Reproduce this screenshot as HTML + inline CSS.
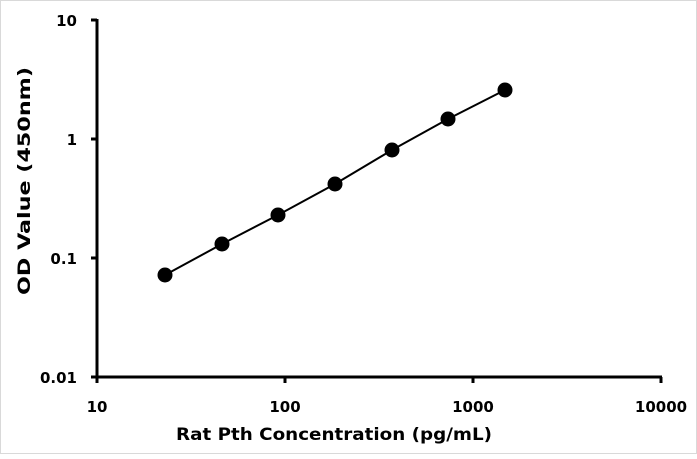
<!DOCTYPE html>
<html><head><style>
html,body{margin:0;padding:0;background:#fff}
body{width:697px;height:454px;overflow:hidden}
svg text{font-family:"DejaVu Sans","Liberation Sans",sans-serif;font-weight:bold;fill:#000}
</style></head><body>
<svg width="697" height="454" viewBox="0 0 697 454" xmlns="http://www.w3.org/2000/svg">
<rect x="0.5" y="0.5" width="696" height="453" fill="#fff" stroke="#d9d9d9"/>
<g stroke="#000" stroke-width="3" fill="none">
<line x1="97" y1="19" x2="97" y2="378"/>
<line x1="96" y1="377" x2="662" y2="377"/>
<line x1="91" y1="20" x2="97" y2="20"/>
<line x1="91" y1="139" x2="97" y2="139"/>
<line x1="91" y1="258" x2="97" y2="258"/>
<line x1="91" y1="377" x2="97" y2="377"/>
<line x1="97" y1="377" x2="97" y2="383"/>
<line x1="285" y1="377" x2="285" y2="383"/>
<line x1="473" y1="377" x2="473" y2="383"/>
<line x1="661" y1="377" x2="661" y2="383"/>
</g>
<polyline points="165,275 222,244 278,215 335,184 392,150 448,119 505,90" fill="none" stroke="#000" stroke-width="2"/>
<g fill="#000">
<circle cx="165" cy="275" r="7.5"/><circle cx="222" cy="244" r="7.5"/><circle cx="278" cy="215" r="7.5"/>
<circle cx="335" cy="184" r="7.5"/><circle cx="392" cy="150" r="7.5"/><circle cx="448" cy="119" r="7.5"/>
<circle cx="505" cy="90" r="7.5"/>
</g>
<g font-size="15" text-anchor="end">
<text x="77" y="26">10</text>
<text x="77" y="145">1</text>
<text x="77" y="264">0.1</text>
<text x="77" y="383">0.01</text>
</g>
<g font-size="15" text-anchor="middle">
<text x="97" y="412">10</text>
<text x="285" y="412">100</text>
<text x="473" y="412">1000</text>
<text x="661" y="412">10000</text>
</g>
<text x="176" y="440" font-size="17" textLength="316" lengthAdjust="spacingAndGlyphs">Rat Pth Concentration  (pg/mL)</text>
<text transform="translate(30,295) rotate(-90)" font-size="17" textLength="228" lengthAdjust="spacingAndGlyphs">OD Value (450nm)</text>
</svg>
</body></html>
